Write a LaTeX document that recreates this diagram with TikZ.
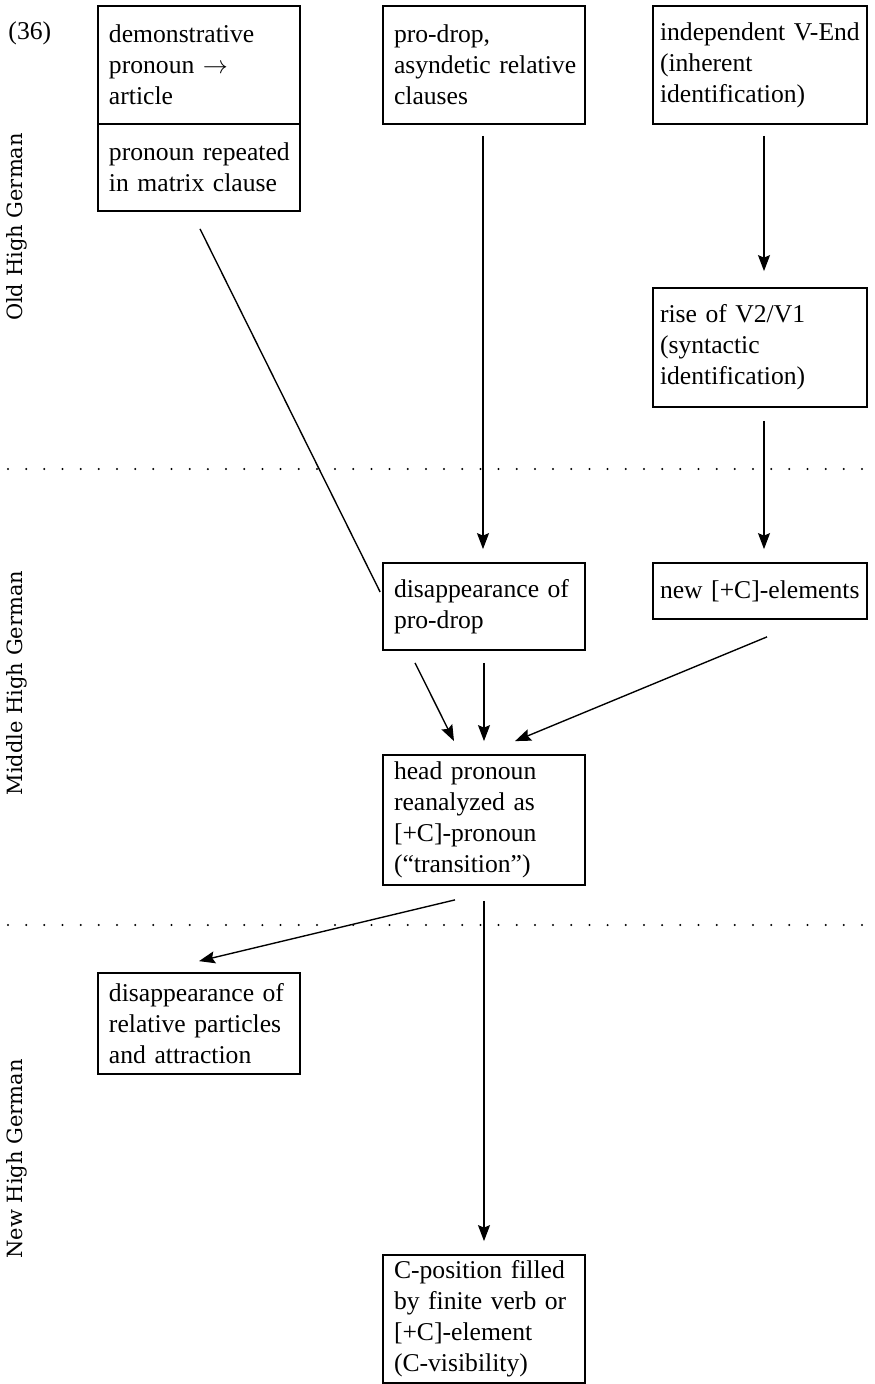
\documentclass[tikz,border=0pt]{standalone}
\usepackage{fontspec}
\setmainfont{Liberation Serif}
\newfontfamily\eralabelfont{DejaVu Serif}
\usetikzlibrary{arrows.meta,calc}

\begin{document}
\begin{tikzpicture}[x=0.4pt,y=-0.4pt,
  box/.style={draw, line width=0.7pt, inner xsep=4.4pt, inner ysep=0pt,
    text width=72pt, align=left, font=\fontsize{10.25}{12.4}\selectfont},
  wbox/.style={box, inner xsep=2.8pt, text width=80pt},
  arr/.style={line width=0.55pt, -{Stealth[length=6.4pt,width=4.8pt,inset=1pt]}},
  conn/.style={line width=0.55pt},
  era/.style={rotate=90, anchor=base, font=\eralabelfont\fontsize{8.4}{10}\selectfont},
  sepdot/.style={fill=black}]

\useasboundingbox (0,0) rectangle (874,1384);

% example number
\node[anchor=base west, inner sep=0pt, font=\fontsize{10.25}{12.4}\selectfont] (num) at (8,40) {(36)};

% period labels
\node[era] (ohg) at (22,227) {Old High German};
\node[era] (mhg) at (22,683) {Middle High German};
\node[era] (nhg) at (22,1159) {New High German};

% period separators (dotted rules)
\foreach \k in {0,...,47} {
  \fill[sepdot] ({8+\k*18.17},469) circle (0.45pt);
  \fill[sepdot] ({8+\k*18.17},925) circle (0.45pt);
}

% boxes
\node[box, minimum height=47.2pt] (A1) at (199,65) {\mbox{demonstrative}\\\mbox{pronoun $\rightarrow$}\\article};
\node[box, minimum height=34.8pt] (A2) at (199,167.5) {\mbox{pronoun repeated}\\\mbox{in matrix clause}};
\node[box, minimum height=47.2pt] (B) at (484,65) {\mbox{pro-drop,}\\\mbox{asyndetic relative}\\clauses};
\node[wbox, minimum height=47.2pt] (C) at (760,65) {\mbox{independent V-End}\\(inherent\\\mbox{identification)}};
\node[wbox, minimum height=47.6pt] (D) at (760,347.5) {\mbox{rise of V2/V1}\\(syntactic\\\mbox{identification)}};
\node[box, minimum height=34.8pt] (E) at (484,606.5) {\mbox{disappearance of}\\\mbox{pro-drop}};
\node[wbox, minimum height=22.4pt] (F) at (760,591) {\mbox{new [+C]-elements}};
\node[box, minimum height=52pt] (G) at (484,820) {\mbox{head pronoun}\\\mbox{reanalyzed as}\\\mbox{[+C]-pronoun}\\\mbox{(“transition”)}};
\node[box, minimum height=40.4pt] (H) at (199,1023.5) {\mbox{disappearance of}\\\mbox{relative particles}\\\mbox{and attraction}};
\node[box, minimum height=51.2pt] (I) at (484,1319) {\mbox{C-position filled}\\\mbox{by finite verb or}\\\mbox{[+C]-element}\\\mbox{(C-visibility)}};

% connectors
\draw[conn] ($(A2.south)+(1,17)$) -- ($(E.west)+(-2,-14.5)$);
\draw[arr] ($(B.south)+(-1,11)$) -- ($(E.north)+(-1,-13)$);
\draw[arr] ($(C.south)+(4,11)$) -- ($(D.north)+(4,-16)$);
\draw[arr] ($(D.south)+(4,13)$) -- ($(F.north)+(4,-13)$);
\draw[arr] ($(E.south)+(-69,12)$) -- ($(G.north)+(-30,-13)$);
\draw[arr] ($(E.south)+(0,12)$) -- ($(G.north)+(0,-13)$);
\draw[arr] ($(F.south)+(7,17)$) -- ($(G.north)+(31,-13)$);
\draw[arr] ($(G.south)+(-29,14)$) -- ($(H.north)+(0,-11)$);
\draw[arr] ($(G.south)+(0,15)$) -- ($(I.north)+(0,-13)$);
\end{tikzpicture}
\end{document}
